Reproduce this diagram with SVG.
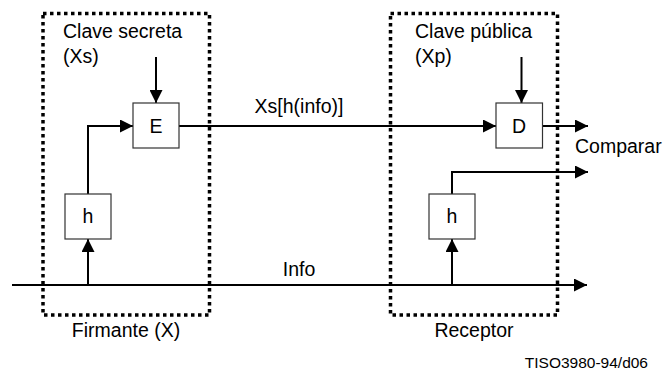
<svg xmlns="http://www.w3.org/2000/svg" width="667" height="376" viewBox="0 0 667 376">
<style>
text{font-family:"Liberation Sans",Arial,sans-serif;font-size:19.5px;fill:#000}
.frame{fill:none;stroke:#000;stroke-width:3.5;stroke-dasharray:3.5 3.5}
.box{fill:#fff;stroke:#333;stroke-width:1.2}
.wire{fill:none;stroke:#000;stroke-width:2}
.c{text-anchor:middle}
</style>
<defs>
<marker id="ah" markerWidth="13" markerHeight="13" viewBox="0 0 13 13" refX="13" refY="6.5" orient="auto" markerUnits="userSpaceOnUse">
<path d="M0,0 L13,6.5 L0,13 Z" fill="#000"/>
</marker>
</defs>
<rect width="667" height="376" fill="#fff"/>
<g id="firmante-frame">
<rect class="frame" x="43" y="13.5" width="166.5" height="301.5"/>
<text x="126" y="337" class="c">Firmante (X)</text>
</g>
<g id="receptor-frame">
<rect class="frame" x="390.5" y="13.5" width="167" height="301.5"/>
<text x="474" y="337" class="c">Receptor</text>
</g>
<g id="connectors">
<path class="wire" d="M12,285 H587" marker-end="url(#ah)"/>
<path class="wire" d="M88,285 V239" marker-end="url(#ah)"/>
<path class="wire" d="M88,194 V126 H133" marker-end="url(#ah)"/>
<path class="wire" d="M156,57 V103" marker-end="url(#ah)"/>
<path class="wire" d="M179,126 H496" marker-end="url(#ah)"/>
<path class="wire" d="M521.5,57 V103" marker-end="url(#ah)"/>
<path class="wire" d="M543,126 H588" marker-end="url(#ah)"/>
<path class="wire" d="M452,285 V239" marker-end="url(#ah)"/>
<path class="wire" d="M452,194 V172 H588" marker-end="url(#ah)"/>
</g>
<g id="key-secret">
<text x="63" y="38">Clave secreta</text>
<text x="63" y="63">(Xs)</text>
</g>
<g id="key-public">
<text x="415" y="38">Clave pública</text>
<text x="415" y="63">(Xp)</text>
</g>
<g id="E">
<rect class="box" x="133" y="103" width="46" height="45"/>
<text x="156" y="133" class="c">E</text>
</g>
<g id="D">
<rect class="box" x="496" y="103" width="46.5" height="45"/>
<text x="519" y="133" class="c">D</text>
</g>
<g id="h1">
<rect class="box" x="65" y="194" width="46" height="45"/>
<text x="88" y="223" class="c">h</text>
</g>
<g id="h2">
<rect class="box" x="429" y="194" width="46" height="45"/>
<text x="452" y="223" class="c">h</text>
</g>
<g id="labels">
<text x="299" y="113" class="c">Xs[h(info)]</text>
<text x="299" y="276" class="c">Info</text>
<text x="575" y="153">Comparar</text>
<text x="648" y="368" style="font-size:15.5px;text-anchor:end">TISO3980-94/d06</text>
</g>
</svg>
